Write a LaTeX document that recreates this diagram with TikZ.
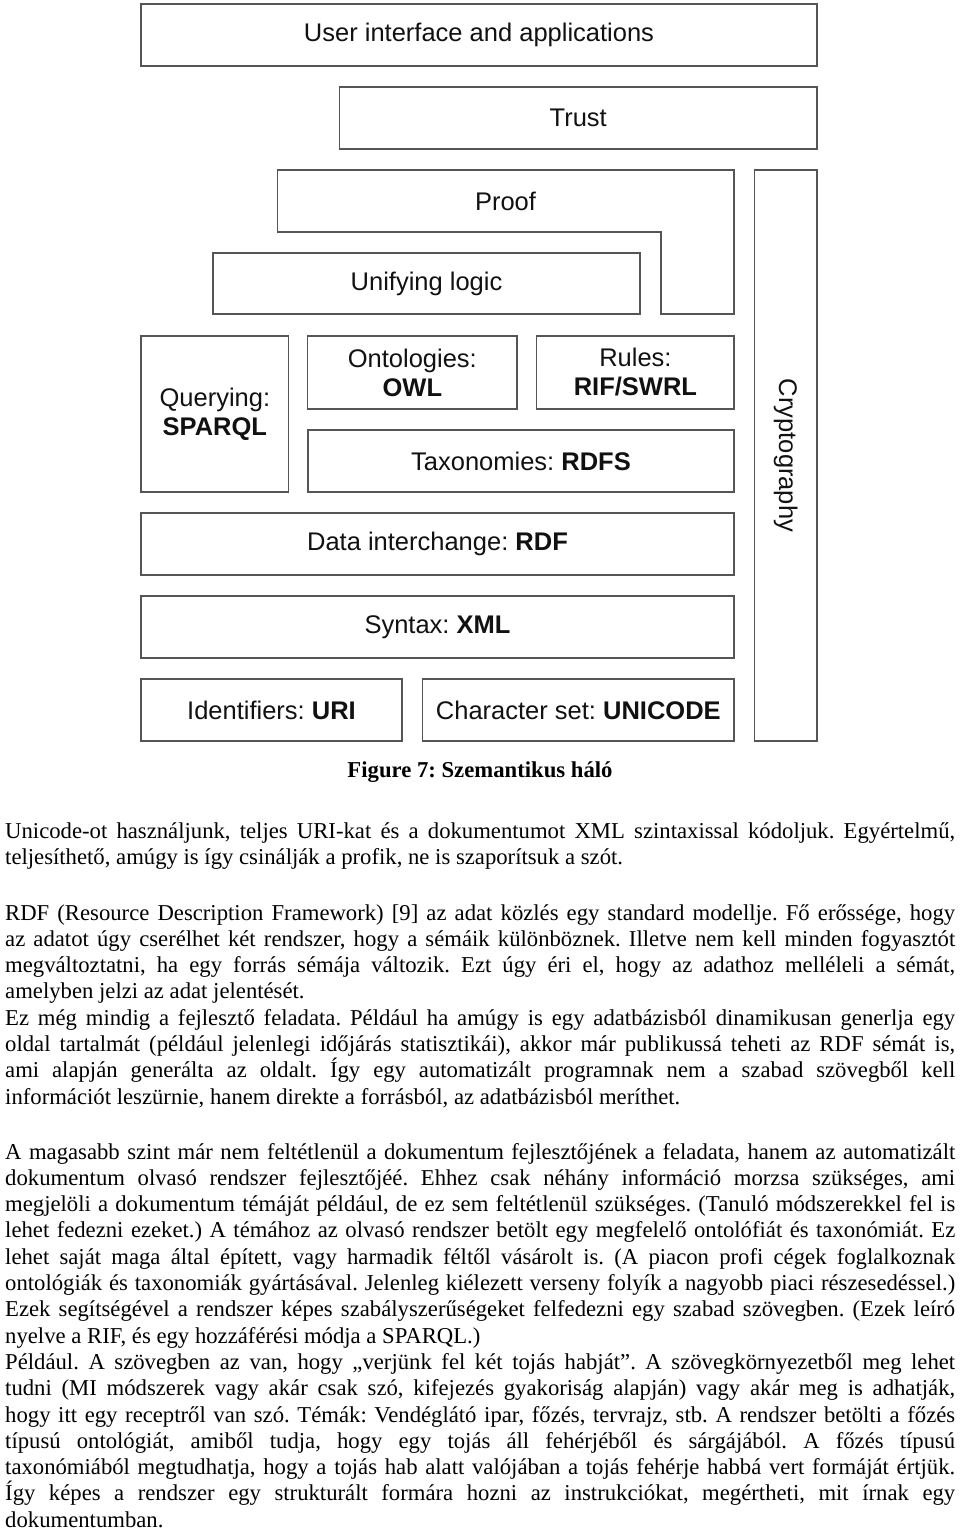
\documentclass[tikz,border=0pt]{standalone}
\usepackage{fontspec}
\setmainfont{Liberation Serif}
\setsansfont{Liberation Sans}
\usepackage{tikz}
\usetikzlibrary{positioning}
\definecolor{lyLine}{HTML}{555555}
\definecolor{lyText}{HTML}{111111}
\tikzset{
  layer/.style={draw=lyLine, line width=1.3pt, align=center, inner sep=0pt, text=lyText, font=\sffamily\fontsize{25.5}{29}\selectfont\frenchspacing},
  lbl/.style={align=center, inner sep=0pt, text=lyText, font=\sffamily\fontsize{25.5}{29}\selectfont},
  txt/.style={anchor=base west, inner sep=0pt, font=\fontsize{22.7}{26.3}\selectfont\frenchspacing},
  figcap/.style={anchor=base, inner sep=0pt, font=\bfseries\fontsize{22.7}{26.3}\selectfont\frenchspacing},
}
\newcommand{\jl}[1]{\makebox[950pt][s]{#1}}
\begin{document}
\begin{tikzpicture}[x=1pt,y=-1pt]
  \useasboundingbox (0,0) rectangle (960,1531);
  % layers of the stack
  \node[layer, minimum width=676, minimum height=62] (ui) at (479,35) {User interface and applications};
  \node[layer, minimum width=477.5, minimum height=62] (trust) at (578.25,118) {Trust};
  \draw[draw=lyLine, line width=1.3pt] (277.5,170) -- (734,170) -- (734,314) -- (661,314) -- (661,232) -- (277.5,232) -- cycle;
  \node[lbl] (proof) at (505.5,201) {Proof};
  \node[layer, minimum width=427, minimum height=61] (logic) at (426.5,283.5) {Unifying logic};
  \node[layer, rotate=-90, minimum width=571, minimum height=62.5] (crypto) at (785.75,455.5) {Cryptography};
  \node[layer, minimum width=147.7, minimum height=156] (sparql) at (214.85,414) {Querying:\\\textbf{SPARQL}};
  \node[layer, minimum width=209.1, minimum height=73] (owl) at (412.35,372.5) {Ontologies:\\\textbf{OWL}};
  \node[layer, minimum width=197.2, minimum height=73] (rules) at (635.4,372.5) {Rules:\\\textbf{RIF/SWRL}};
  \node[layer, minimum width=426, minimum height=62] (rdfs) at (521,461) {Taxonomies: \textbf{RDFS}};
  \node[layer, minimum width=593, minimum height=62] (rdf) at (437.5,544) {Data interchange: \textbf{RDF}};
  \node[layer, minimum width=593, minimum height=62] (xml) at (437.5,627) {Syntax: \textbf{XML}};
  \node[layer, minimum width=261, minimum height=62] (uri) at (271.5,710) {Identifiers: \textbf{URI}};
  \node[layer, minimum width=311.3, minimum height=62] (unicode) at (578.35,710) {Character set: \textbf{UNICODE}};
  % caption
  \node[figcap] (caption) at (480,777) {Figure 7: Szemantikus háló};
  % body text
  \node[txt] (p1a) at (5,838) {\jl{Unicode-ot használjunk, teljes URI-kat és a dokumentumot XML szintaxissal kódoljuk. Egyértelmű,}};
  \node[txt] (p1b) at (5,864.3) {teljesíthető, amúgy is így csinálják a profik, ne is szaporítsuk a szót.};
  \node[txt] (p2a) at (5,920) {\jl{RDF (Resource Description Framework) [9] az adat közlés egy standard modellje. Fő erőssége, hogy}};
  \node[txt] (p2b) at (5,946.3) {\jl{az adatot úgy cserélhet két rendszer, hogy a sémáik különböznek. Illetve nem kell minden fogyasztót}};
  \node[txt] (p2c) at (5,972.6) {\jl{megváltoztatni, ha egy forrás sémája változik. Ezt úgy éri el, hogy az adathoz melléleli a sémát,}};
  \node[txt] (p2d) at (5,998.9) {amelyben jelzi az adat jelentését.};
  \node[txt] (p2e) at (5,1025.2) {\jl{Ez még mindig a fejlesztő feladata. Például ha amúgy is egy adatbázisból dinamikusan generlja egy}};
  \node[txt] (p2f) at (5,1051.5) {\jl{oldal tartalmát (például jelenlegi időjárás statisztikái), akkor már publikussá teheti az RDF sémát is,}};
  \node[txt] (p2g) at (5,1077.8) {\jl{ami alapján generálta az oldalt. Így egy automatizált programnak nem a szabad szövegből kell}};
  \node[txt] (p2h) at (5,1104.1) {információt leszürnie, hanem direkte a forrásból, az adatbázisból meríthet.};
  \node[txt] (p3a) at (5,1159) {\jl{A magasabb szint már nem feltétlenül a dokumentum fejlesztőjének a feladata, hanem az automatizált}};
  \node[txt] (p3b) at (5,1185.3) {\jl{dokumentum olvasó rendszer fejlesztőjéé. Ehhez csak néhány információ morzsa szükséges, ami}};
  \node[txt] (p3c) at (5,1211.6) {\jl{megjelöli a dokumentum témáját például, de ez sem feltétlenül szükséges. (Tanuló módszerekkel fel is}};
  \node[txt] (p3d) at (5,1237.9) {\jl{lehet fedezni ezeket.) A témához az olvasó rendszer betölt egy megfelelő ontolófiát és taxonómiát. Ez}};
  \node[txt] (p3e) at (5,1264.2) {\jl{lehet saját maga által épített, vagy harmadik féltől vásárolt is. (A piacon profi cégek foglalkoznak}};
  \node[txt] (p3f) at (5,1290.5) {\jl{ontológiák és taxonomiák gyártásával. Jelenleg kiélezett verseny folyík a nagyobb piaci részesedéssel.)}};
  \node[txt] (p3g) at (5,1316.8) {\jl{Ezek segítségével a rendszer képes szabályszerűségeket felfedezni egy szabad szövegben. (Ezek leíró}};
  \node[txt] (p3h) at (5,1343.1) {nyelve a RIF, és egy hozzáférési módja a SPARQL.)};
  \node[txt] (p3i) at (5,1369.4) {\jl{Például. A szövegben az van, hogy „verjünk fel két tojás habját”. A szövegkörnyezetből meg lehet}};
  \node[txt] (p3j) at (5,1395.7) {\jl{tudni (MI módszerek vagy akár csak szó, kifejezés gyakoriság alapján) vagy akár meg is adhatják,}};
  \node[txt] (p3k) at (5,1422) {\jl{hogy itt egy receptről van szó. Témák: Vendéglátó ipar, főzés, tervrajz, stb. A rendszer betölti a főzés}};
  \node[txt] (p3l) at (5,1448.3) {\jl{típusú ontológiát, amiből tudja, hogy egy tojás áll fehérjéből és sárgájából. A főzés típusú}};
  \node[txt] (p3m) at (5,1474.6) {\jl{taxonómiából megtudhatja, hogy a tojás hab alatt valójában a tojás fehérje habbá vert formáját értjük.}};
  \node[txt] (p3n) at (5,1500.9) {\jl{Így képes a rendszer egy strukturált formára hozni az instrukciókat, megértheti, mit írnak egy}};
  \node[txt] (p3o) at (5,1527.2) {dokumentumban.};
\end{tikzpicture}
\end{document}
